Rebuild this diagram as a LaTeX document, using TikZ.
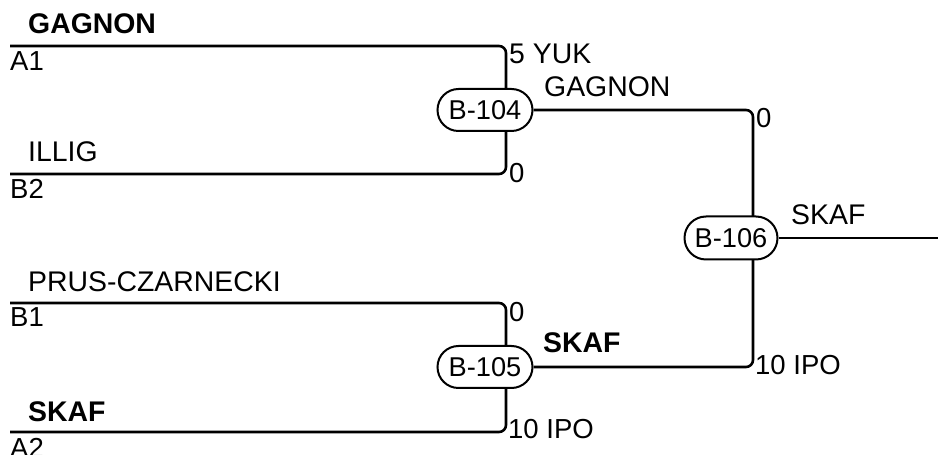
\documentclass[tikz,border=0pt]{standalone}
\usepackage{fontspec}
\setmainfont{Liberation Sans}
\usetikzlibrary{backgrounds,shapes.misc}
\begin{document}
\begin{tikzpicture}[x=1pt,y=1pt,
  lbl/.style={anchor=base west,inner sep=0pt,font=\fontsize{27.5}{30}\selectfont},
  nlbl/.style={anchor=base west,inner sep=0pt,font=\fontsize{28.4}{30}\selectfont},
  blbl/.style={anchor=base west,inner sep=0pt,font=\fontsize{28.4}{30}\selectfont\bfseries},
  game/.style={rounded rectangle,draw,line width=2pt,fill=white,minimum width=95pt,minimum height=42pt,inner sep=0pt,font=\fontsize{27.2}{30}\selectfont},
  wire/.style={line width=2.6pt,rounded corners=7pt}]
\useasboundingbox (0,0) rectangle (938,455);
% games
\node[game] (b104) at (485,345) {B-104};
\node[game] (b105) at (485,88) {B-105};
\node[game,minimum width=93pt,minimum height=43pt] (b106) at (731,217) {B-106};
% junction points
\coordinate (a1s) at (10,409);
\coordinate (b2s) at (10,281);
\coordinate (b1s) at (10,152);
\coordinate (a2s) at (10,23);
\coordinate (v104) at (506,345);
\coordinate (v105) at (506,88);
\coordinate (v106) at (753,217);
\coordinate (fin) at (938,217);
\begin{pgfonlayer}{background}
\draw[wire] (a1s) -| (v104);
\draw[wire] (b2s) -| (v104);
\draw[wire] (b1s) -| (v105);
\draw[wire] (a2s) -| (v105);
\draw[wire] (b104.east) -| (v106);
\draw[wire] (b105.east) -| (v106);
\draw[wire] (b106.east) -- (fin);
\end{pgfonlayer}
% entrant labels
\node[blbl] (n1) at (28,421) {GAGNON};
\node[lbl] (s1) at (10,384) {A1};
\node[nlbl] (n2) at (28,293) {ILLIG};
\node[lbl] (s2) at (10,256) {B2};
\node[nlbl] (n3) at (28,163) {PRUS-CZARNECKI};
\node[lbl] (s3) at (10,128) {B1};
\node[blbl] (n4) at (28,33) {SKAF};
\node[lbl] (s4) at (10,-3) {A2};
% scores
\node[nlbl] (sc1) at (509,391) {5 YUK};
\node[lbl] (sc2) at (509,272) {0};
\node[lbl] (sc3) at (509,133) {0};
\node[lbl] (sc4) at (508,16) {10 IPO};
\node[lbl] (sc5) at (756,327) {0};
\node[lbl] (sc6) at (755,80) {10 IPO};
% winners
\node[nlbl] (w1) at (544,358) {GAGNON};
\node[blbl] (w2) at (543,102) {SKAF};
\node[nlbl] (w3) at (791,230) {SKAF};
\end{tikzpicture}
\end{document}
